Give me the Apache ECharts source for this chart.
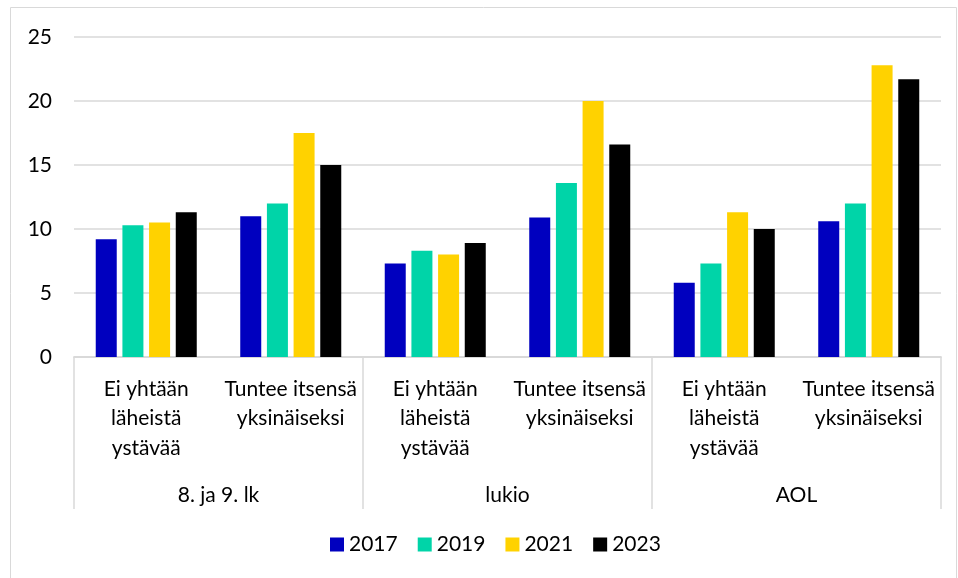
<!DOCTYPE html>
<html>
<head>
<meta charset="utf-8">
<script src="https://cdn.jsdelivr.net/npm/echarts@6/dist/echarts.min.js"></script>
<style>
  html, body { margin: 0; padding: 0; background: #fff; }
  #chart { width: 958px; height: 578px; }
</style>
</head>
<body>
<div id="chart"></div>
<script>
// categories (two-level x axis)
var subCategories = [
    'Ei yhtään\nläheistä\nystävää', 'Tuntee itsensä\nyksinäiseksi',
    'Ei yhtään\nläheistä\nystävää', 'Tuntee itsensä\nyksinäiseksi',
    'Ei yhtään\nläheistä\nystävää', 'Tuntee itsensä\nyksinäiseksi'
];
var groups = ['8. ja 9. lk', 'lukio', 'AOL'];
var years = ['2017', '2019', '2021', '2023'];
var yTicks = [0, 5, 10, 15, 20, 25];

// values per year
var values2017 = [9.2, 11.0, 7.3, 10.9, 5.8, 10.6];
var values2019 = [10.3, 12.0, 8.3, 13.6, 7.3, 12.0];
var values2021 = [10.5, 17.5, 8.0, 20.0, 11.3, 22.8];
var values2023 = [11.3, 15.0, 8.9, 16.6, 10.0, 21.7];

var colors = ['#0000bf', '#00d4a8', '#ffd200', '#000000'];
var font = 'Lato, "Noto Sans", sans-serif';

var myChart = echarts.init(document.getElementById('chart'));

var seriesValues = [values2017, values2019, values2021, values2023];
var series = years.map(function (y, i) {
    return {
        name: y,
        type: 'bar',
        xAxisIndex: 0,
        data: seriesValues[i],
        barWidth: 21,
        barGap: '27%',
        itemStyle: { color: colors[i] }
    };
});

var option = {
    animation: false,
    color: colors,
    graphic: [{
        type: 'rect',
        shape: { x: 10.5, y: 7.5, width: 946, height: 580 },
        style: { fill: 'none', stroke: '#d9d9d9', lineWidth: 1 },
        silent: true
    }],
    grid: { left: 74, right: 17, top: 37, bottom: 221 },
    legend: {
        data: years,
        bottom: 18,
        left: 325,
        icon: 'rect',
        itemWidth: 14,
        itemHeight: 14,
        itemGap: 20,
        textStyle: { fontFamily: font, fontSize: 21, color: '#000' }
    },
    xAxis: [{
        type: 'category',
        data: subCategories,
        axisLine: { lineStyle: { color: '#d9d9d9', width: 1.5 } },
        axisTick: { show: false },
        axisLabel: {
            interval: 0,
            margin: 17,
            fontFamily: font,
            fontSize: 21,
            lineHeight: 29.5,
            color: '#000'
        }
    }, {
        type: 'category',
        position: 'bottom',
        data: groups,
        axisLine: { lineStyle: { color: '#d9d9d9', width: 1.5 } },
        axisTick: { show: true, interval: 0, length: 152, lineStyle: { color: '#d9d9d9', width: 1.5 } },
        axisLabel: {
            interval: 0,
            margin: 126,
            fontFamily: font,
            fontSize: 21,
            lineHeight: 24,
            color: '#000'
        }
    }],
    yAxis: {
        type: 'value',
        min: yTicks[0],
        max: yTicks[yTicks.length - 1],
        interval: 5,
        axisLine: { show: false },
        axisTick: { show: false },
        splitLine: { lineStyle: { color: '#d9d9d9', width: 1.5 } },
        axisLabel: { margin: 22, fontFamily: font, fontSize: 21, color: '#000' }
    },
    series: series
};

myChart.setOption(option);
</script>
</body>
</html>
